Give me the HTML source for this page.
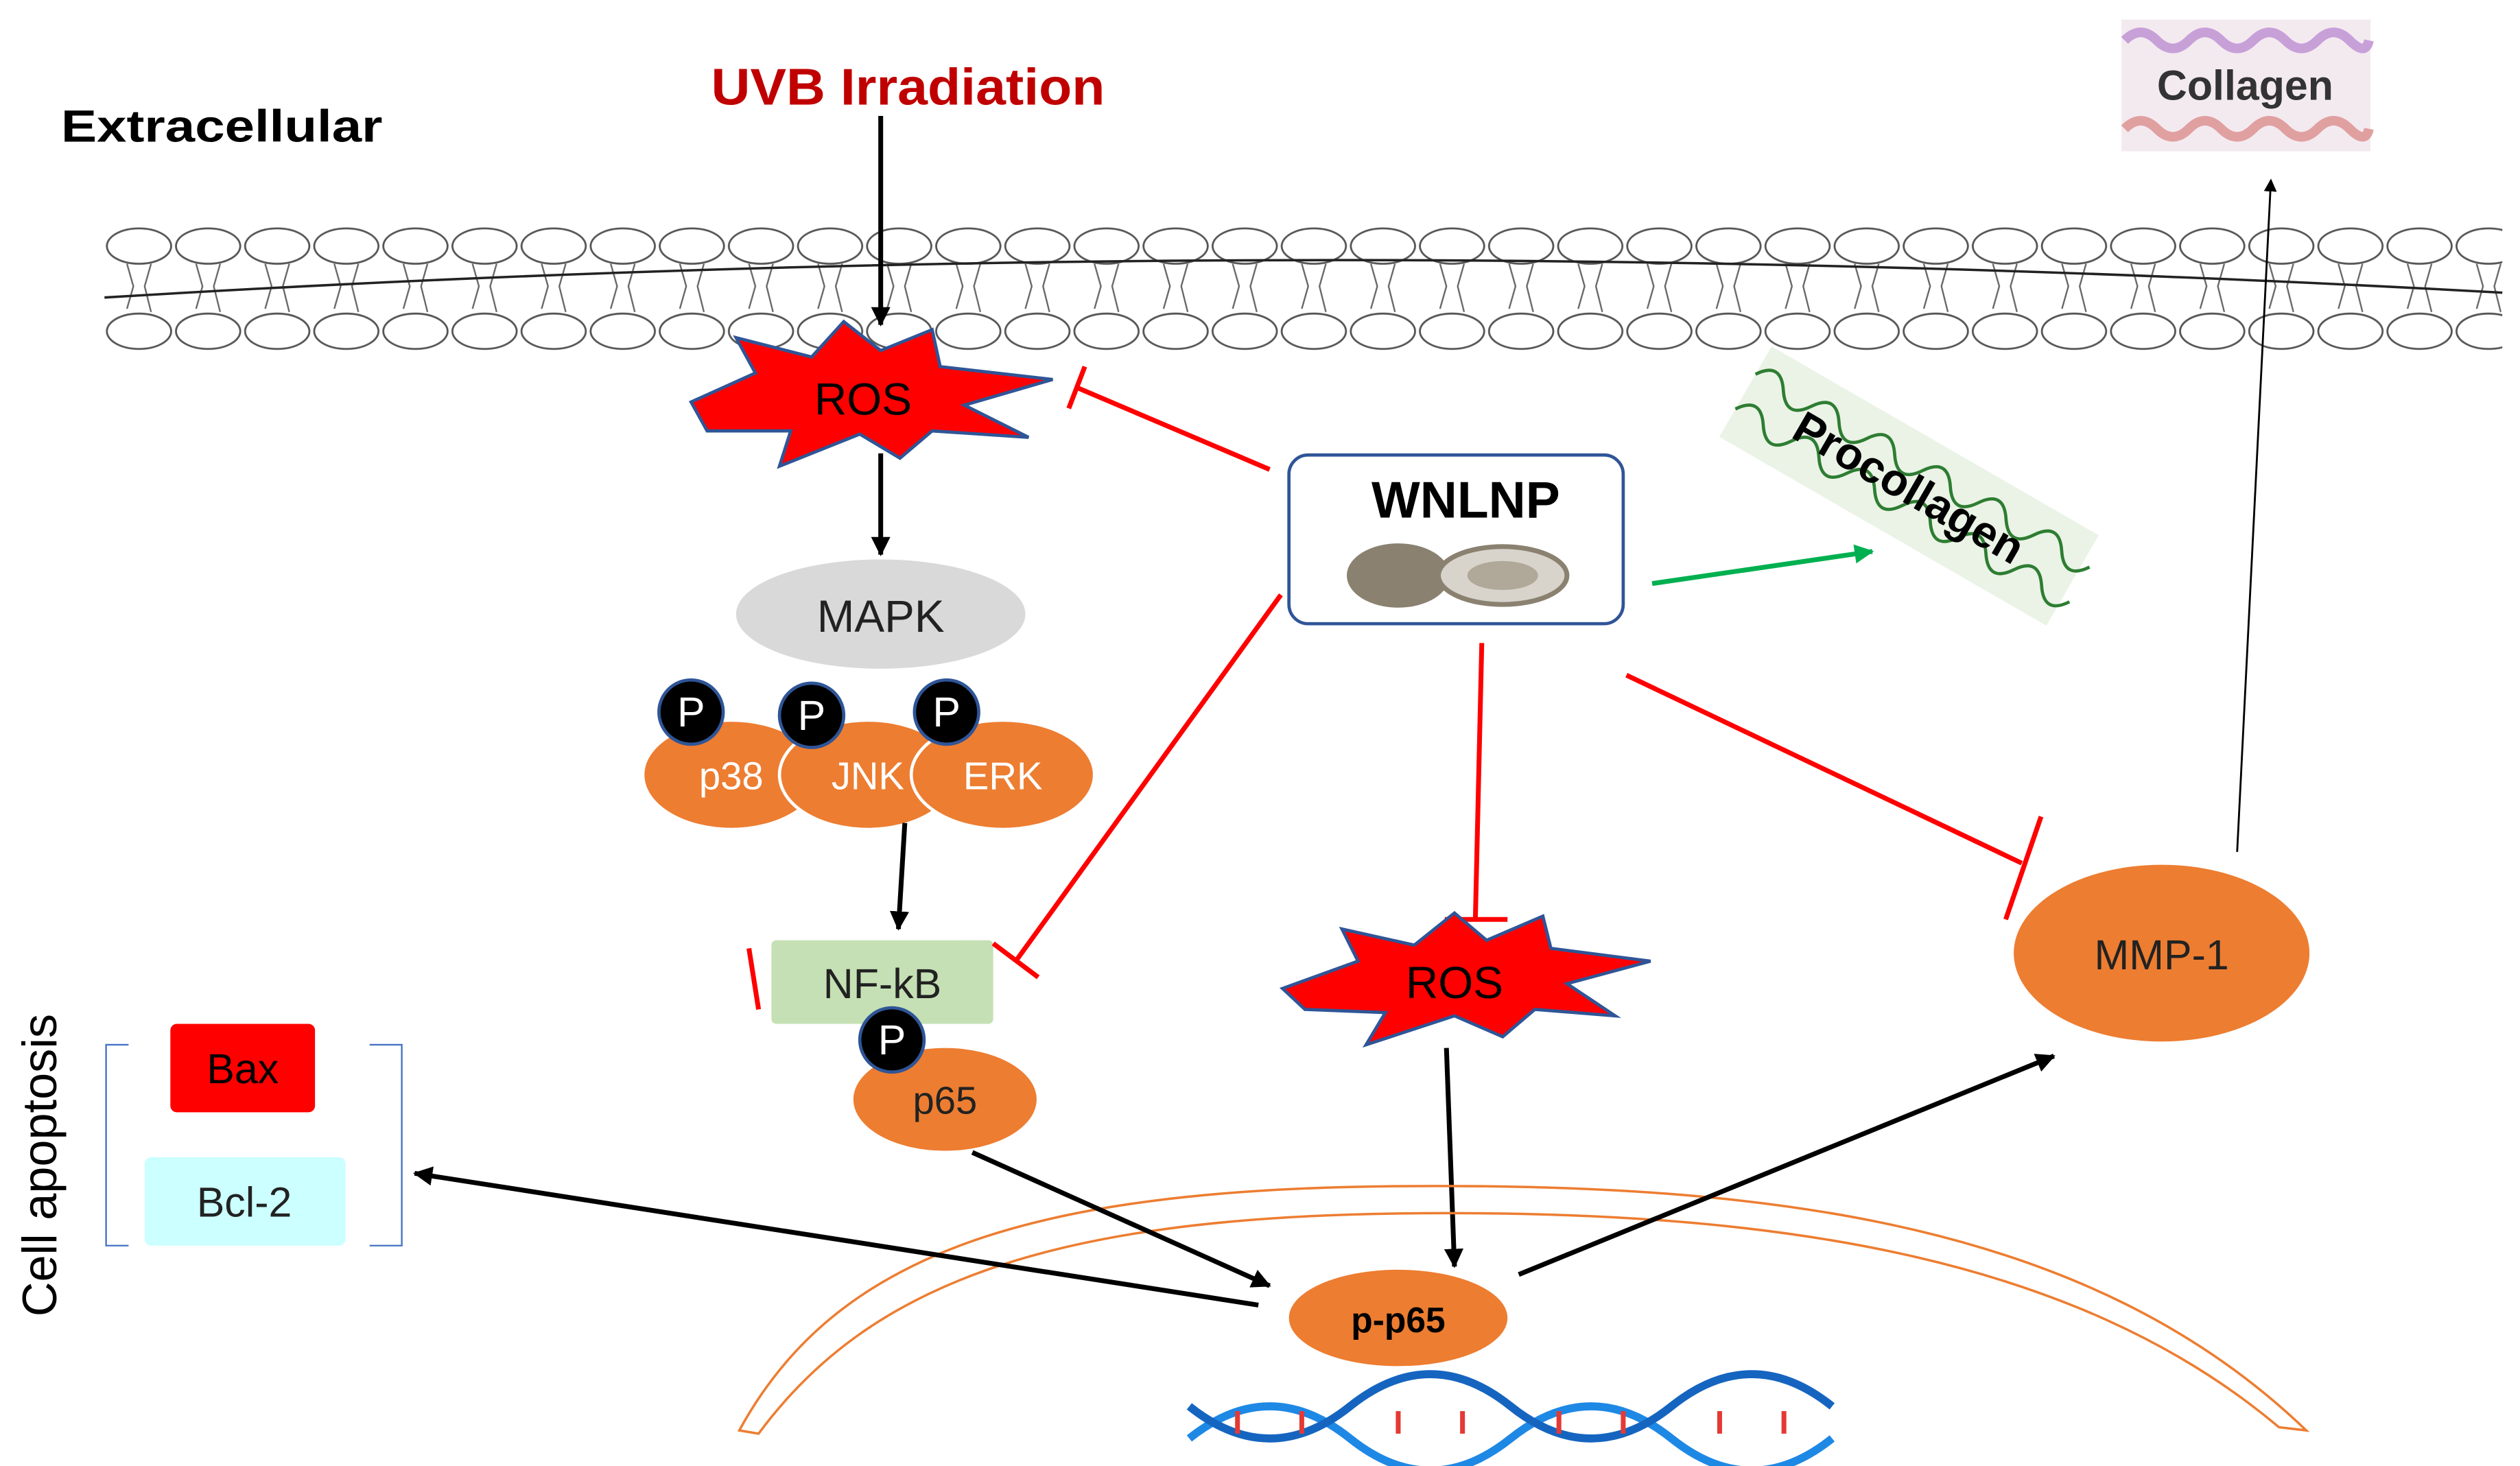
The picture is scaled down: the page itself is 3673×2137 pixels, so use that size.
<!DOCTYPE html>
<html><head><meta charset="utf-8"><style>
html,body{margin:0;padding:0;background:#fff;}
svg{display:block;}
text{font-family:"Liberation Sans",sans-serif;}
</style></head><body>
<svg width="3673" height="2137" viewBox="0 0 1568 912" xmlns="http://www.w3.org/2000/svg">
<defs>
<pattern id="mem" x="65" y="0" width="43" height="912" patternUnits="userSpaceOnUse">
<ellipse cx="21.5" cy="153" rx="20" ry="11" fill="#fff" stroke="#555" stroke-width="1.2"/>
<ellipse cx="21.5" cy="206" rx="20" ry="11" fill="#fff" stroke="#555" stroke-width="1.2"/>
<path d="M14 164 L18 178 L14 192 M29 164 L25 178 L29 194" fill="none" stroke="#666" stroke-width="1"/>
</pattern>
<marker id="ah" markerWidth="8" markerHeight="8" refX="7" refY="4" orient="auto" markerUnits="userSpaceOnUse" viewBox="0 0 8 8"><path d="M0,0 L8,4 L0,8 z" fill="#000"/></marker>
<marker id="ah2" markerWidth="12" markerHeight="12" refX="11" refY="6" orient="auto" markerUnits="userSpaceOnUse" viewBox="0 0 12 12"><path d="M0,0 L12,6 L0,12 z" fill="#000"/></marker>
<marker id="ahg" markerWidth="12" markerHeight="12" refX="11" refY="6" orient="auto" markerUnits="userSpaceOnUse" viewBox="0 0 12 12"><path d="M0,0 L12,6 L0,12 z" fill="#00b050"/></marker>
</defs>
<rect x="65" y="138" width="1492" height="82" fill="url(#mem)"/>
<path d="M65 185 Q800 140 1557 182" fill="none" stroke="#222" stroke-width="1.5"/>
<text x="38" y="88" font-size="28" font-weight="bold" textLength="200" lengthAdjust="spacingAndGlyphs">Extracellular</text>
<text x="565" y="65" font-size="32" font-weight="bold" fill="#c00000" text-anchor="middle" textLength="245" lengthAdjust="spacingAndGlyphs">UVB Irradiation</text>
<line x1="548" y1="72" x2="548" y2="202" stroke="#000" stroke-width="3" marker-end="url(#ah2)"/>
<polygon points="430,250 470,232 458,210 505,222 525,200 548,218 580,205 585,228 655,236 600,252 640,272 580,268 560,285 535,270 485,290 492,268 440,268" fill="#f00" stroke="#2f5597" stroke-width="2"/>
<text x="537" y="258" font-size="28" text-anchor="middle">ROS</text>
<line x1="548" y1="282" x2="548" y2="345" stroke="#000" stroke-width="3" marker-end="url(#ah2)"/>
<ellipse cx="548" cy="382" rx="90" ry="34" fill="#d9d9d9"/>
<text x="548" y="393" font-size="28" text-anchor="middle" fill="#222">MAPK</text>
<g fill="#ed7d31" stroke="#fff" stroke-width="2">
<ellipse cx="455" cy="482" rx="55" ry="34"/>
<ellipse cx="540" cy="482" rx="55" ry="34"/>
<ellipse cx="624" cy="482" rx="57" ry="34"/>
</g>
<g font-size="24" fill="#fff" text-anchor="middle"><text x="455" y="491">p38</text><text x="540" y="491">JNK</text><text x="624" y="491">ERK</text></g>
<g fill="#000" stroke="#2f5597" stroke-width="2"><circle cx="430" cy="443" r="20"/><circle cx="505" cy="445" r="20"/><circle cx="589" cy="443" r="20"/></g>
<g font-size="26" fill="#fff" text-anchor="middle"><text x="430" y="452">P</text><text x="505" y="454">P</text><text x="589" y="452">P</text></g>
<line x1="563" y1="512" x2="559" y2="578" stroke="#000" stroke-width="3" marker-end="url(#ah2)"/>
<rect x="480" y="585" width="138" height="52" rx="3" fill="#c5e0b4"/>
<text x="549" y="621" font-size="26" text-anchor="middle" fill="#222">NF-kB</text>
<ellipse cx="588" cy="684" rx="57" ry="32" fill="#ed7d31"/>
<circle cx="555" cy="647" r="20" fill="#000" stroke="#2f5597" stroke-width="2"/>
<text x="555" y="656" font-size="26" fill="#fff" text-anchor="middle">P</text>
<text x="588" y="693" font-size="24" text-anchor="middle" fill="#222">p65</text>
<line x1="466" y1="590" x2="472" y2="628" stroke="#f00" stroke-width="3"/>
<rect x="802" y="283" width="208" height="105" rx="12" fill="#fff" stroke="#2f5597" stroke-width="2"/>
<text x="912" y="322" font-size="32" font-weight="bold" text-anchor="middle">WNLNP</text>
<ellipse cx="870" cy="358" rx="32" ry="20" fill="#8a8170"/>
<ellipse cx="935" cy="358" rx="40" ry="18" fill="#d8d4cc" stroke="#8a8170" stroke-width="3"/>
<ellipse cx="935" cy="358" rx="22" ry="9" fill="#b0a898"/>
<g stroke="#f00" stroke-width="3" fill="none">
<line x1="790" y1="292" x2="670" y2="241"/><line x1="675" y1="228" x2="665" y2="254"/>
<line x1="797" y1="370" x2="632" y2="598"/><line x1="618" y1="587" x2="646" y2="608"/>
<line x1="922" y1="400" x2="918" y2="572"/><line x1="899" y1="572" x2="938" y2="572"/>
<line x1="1012" y1="420" x2="1258" y2="537"/><line x1="1270" y1="508" x2="1248" y2="572"/>
</g>
<line x1="1028" y1="363" x2="1165" y2="343" stroke="#00b050" stroke-width="3" marker-end="url(#ahg)"/>
<g transform="rotate(30 1188 303)">
<rect x="1070" y="270" width="235" height="65" fill="#eaf3e6"/>
<path d="M1070 290 q10 -15 20 0 t20 0 t20 0 t20 0 t20 0 t20 0 t20 0 t20 0 t20 0 t20 0 t20 0 t20 0 M1070 315 q10 -15 20 0 t20 0 t20 0 t20 0 t20 0 t20 0 t20 0 t20 0 t20 0 t20 0 t20 0 t20 0" fill="none" stroke="#2e7d32" stroke-width="2"/>
<text x="1188" y="313" font-size="28" font-weight="bold" text-anchor="middle">Procollagen</text>
</g>
<rect x="1320" y="12" width="155" height="82" fill="#f3eaf0"/>
<path d="M1322 25 q10 -10 20 0 t20 0 t20 0 t20 0 t20 0 t20 0 t20 0 t12 0" fill="none" stroke="#c8a0d8" stroke-width="6"/>
<path d="M1322 80 q10 -10 20 0 t20 0 t20 0 t20 0 t20 0 t20 0 t20 0 t12 0" fill="none" stroke="#e0a0a0" stroke-width="6"/>
<text x="1397" y="62" font-size="26" font-weight="bold" text-anchor="middle" font-family="Liberation Serif,serif" fill="#333">Collagen</text>
<line x1="1392" y1="530" x2="1413" y2="112" stroke="#000" stroke-width="1.2" marker-end="url(#ah)"/>
<ellipse cx="1345" cy="593" rx="92" ry="55" fill="#ed7d31"/>
<text x="1345" y="603" font-size="26" text-anchor="middle" fill="#222">MMP-1</text>
<polygon points="798,615 845,598 835,578 880,588 905,568 925,585 960,570 965,590 1027,598 975,612 1005,632 955,628 935,645 905,632 850,650 862,630 812,628" fill="#f00" stroke="#2f5597" stroke-width="2"/>
<text x="905" y="621" font-size="28" text-anchor="middle">ROS</text>
<line x1="900" y1="652" x2="905" y2="788" stroke="#000" stroke-width="3" marker-end="url(#ah2)"/>
<path d="M460 890 C520 780 640 740 870 738 C1100 736 1300 760 1435 890 L1418 888 C1290 780 1100 752 870 755 C650 758 540 800 472 892 Z" fill="none" stroke="#ed7d31" stroke-width="1.5"/>
<ellipse cx="870" cy="820" rx="68" ry="30" fill="#ed7d31"/>
<text x="870" y="829" font-size="22" font-weight="bold" text-anchor="middle">p-p65</text>
<line x1="605" y1="717" x2="790" y2="800" stroke="#000" stroke-width="3" marker-end="url(#ah2)"/>
<line x1="783" y1="812" x2="258" y2="730" stroke="#000" stroke-width="3" marker-end="url(#ah2)"/>
<line x1="945" y1="793" x2="1278" y2="657" stroke="#000" stroke-width="3" marker-end="url(#ah2)"/>
<path d="M740 895 q50 -40 100 0 t100 0 t100 0 t100 0" fill="none" stroke="#1e88e5" stroke-width="5"/>
<path d="M740 875 q50 40 100 0 t100 0 t100 0 t100 0" fill="none" stroke="#1565c0" stroke-width="5"/>
<g stroke="#e53935" stroke-width="3"><line x1="770" y1="878" x2="770" y2="892"/><line x1="810" y1="878" x2="810" y2="892"/><line x1="870" y1="878" x2="870" y2="892"/><line x1="910" y1="878" x2="910" y2="892"/><line x1="970" y1="878" x2="970" y2="892"/><line x1="1010" y1="878" x2="1010" y2="892"/><line x1="1070" y1="878" x2="1070" y2="892"/><line x1="1110" y1="878" x2="1110" y2="892"/></g>
<text transform="translate(35 725) rotate(-90)" font-size="30" text-anchor="middle">Cell apoptosis</text>
<path d="M80 650 L66 650 L66 775 L80 775 M230 650 L250 650 L250 775 L230 775" fill="none" stroke="#4472c4" stroke-width="1"/>
<rect x="106" y="637" width="90" height="55" rx="4" fill="#f00"/>
<text x="151" y="674" font-size="26" text-anchor="middle">Bax</text>
<rect x="90" y="720" width="125" height="55" rx="4" fill="#ccffff"/>
<text x="152" y="757" font-size="26" text-anchor="middle" fill="#222">Bcl-2</text>
</svg>
</body></html>
